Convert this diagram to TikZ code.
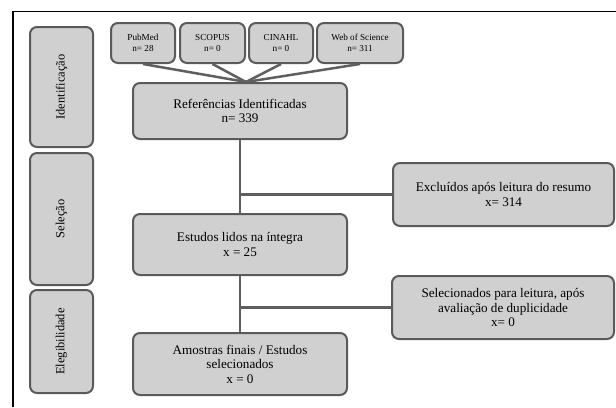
\documentclass[tikz,border=0pt]{standalone}
\usepackage{fontspec}
\setmainfont{Liberation Serif}
\definecolor{boxfill}{RGB}{208,208,208}
\definecolor{boxedge}{RGB}{90,90,90}
\definecolor{linkcol}{RGB}{95,95,95}
\tikzset{
  flowbox/.style={draw=boxedge, fill=boxfill, line width=2bp, rounded corners=7bp,
    align=center, inner sep=0pt, font=\fontsize{13.2}{14.5}\selectfont},
  srcbox/.style={flowbox, font=\fontsize{9.2}{10.5}\selectfont},
  sidebox/.style={flowbox, minimum width=63bp, font=\fontsize{12.5}{14}\selectfont},
  link/.style={draw=linkcol, line width=2.5bp}
}
\begin{document}
\begin{tikzpicture}[x=1bp,y=-1bp]
\useasboundingbox (0,0) rectangle (616,407);
\draw[black, line width=1.3bp] (13,407) -- (13,11.5) -- (616,11.5);

\node[sidebox, minimum height=120bp] (ident) at (61.5,87) {\rotatebox{90}{Identificação}};
\node[sidebox, minimum height=132bp] (sel) at (61.5,219) {\rotatebox{90}{Seleção}};
\node[sidebox, minimum height=103bp] (eleg) at (61.5,341.5) {\rotatebox{90}{Elegibilidade}};

\node[srcbox, minimum width=64bp, minimum height=40bp] (pub) at (143,43) {PubMed\\n= 28};
\node[srcbox, minimum width=65bp, minimum height=40bp] (scop) at (212.5,43) {SCOPUS\\n= 0};
\node[srcbox, minimum width=64bp, minimum height=40bp] (cin) at (281,43) {CINAHL\\n= 0};
\node[srcbox, minimum width=86bp, minimum height=40bp] (wos) at (360,43) {Web of Science\\n= 311};

\node[flowbox, minimum width=214bp, minimum height=56bp] (ref) at (240,111) {Referências Identificadas\\n= 339};
\node[flowbox, minimum width=221bp, minimum height=63bp] (excl) at (503.5,194.5) {Excluídos após leitura do resumo\\x= 314};
\node[flowbox, minimum width=214bp, minimum height=61bp] (est) at (240,244.5) {Estudos lidos na íntegra\\x = 25};
\node[flowbox, minimum width=222bp, minimum height=63bp] (selec) at (503,307.5) {Selecionados para leitura, após\\avaliação de duplicidade\\x= 0};
\node[flowbox, minimum width=214bp, minimum height=62bp] (amos) at (240,364) {Amostras finais / Estudos\\selecionados\\x = 0};

\coordinate (conv) at (246,82);
\draw[link] (pub.south) -- (conv);
\draw[link] (scop.south) -- (conv);
\draw[link] (cin.south) -- (conv);
\draw[link] (wos.south) -- (conv);
\coordinate (b1) at (ref.south |- excl.west);
\coordinate (b2) at (est.south |- selec.west);
\draw[link] (ref.south) -- (est.north);
\draw[link] (b1) -- (excl.west);
\draw[link] (est.south) -- (amos.north);
\draw[link] (b2) -- (selec.west);
\end{tikzpicture}
\end{document}
